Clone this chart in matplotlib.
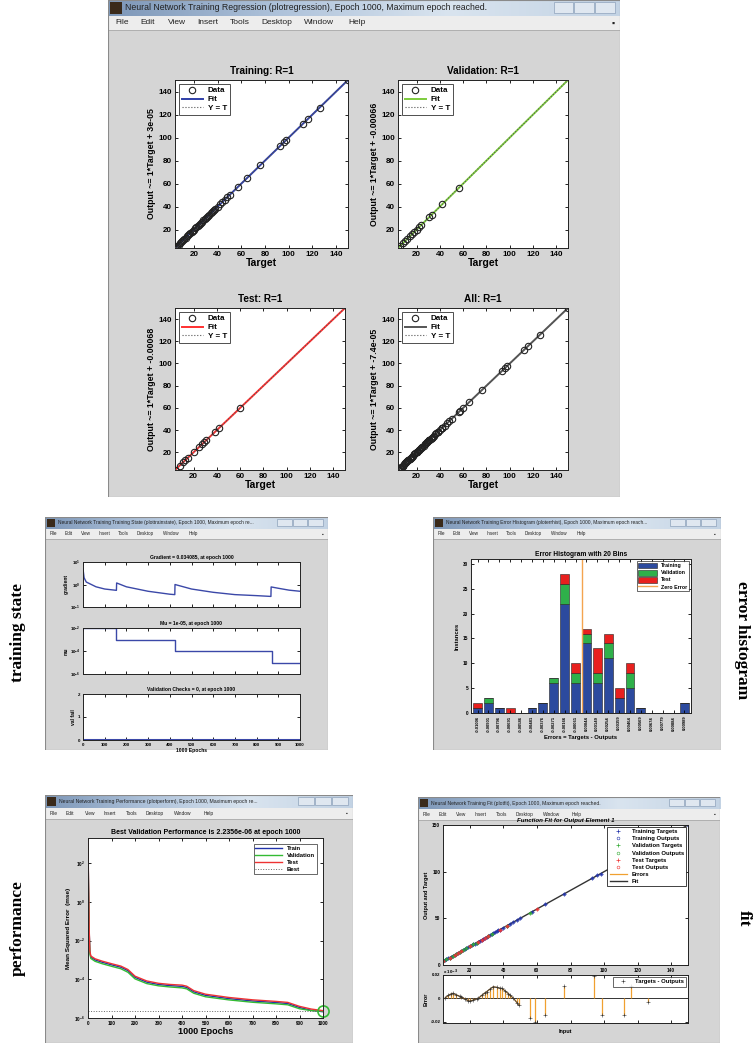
import numpy as np
import matplotlib
matplotlib.use("Agg")
import matplotlib.pyplot as plt
from matplotlib.patches import Rectangle, Patch
from matplotlib.lines import Line2D
from matplotlib.colors import LinearSegmentedColormap

plt.rcParams['font.family'] = ['Liberation Sans', 'DejaVu Sans']
plt.rcParams['font.weight'] = 'bold'
plt.rcParams['axes.labelweight'] = 'bold'
plt.rcParams['axes.titleweight'] = 'bold'
plt.rcParams['mathtext.default'] = 'bf'

# ---------------- data: regression ----------------
train_targets = [4, 5, 6, 7, 8, 9, 10, 11, 12, 13, 14, 15, 16, 17, 18, 19, 20, 21, 22, 23, 24,
                 25, 26, 27, 28, 29, 30, 31, 32, 33, 34, 35, 36, 37, 38, 40, 42, 44, 46, 48, 50,
                 57, 65, 76, 93, 96, 98, 112, 116, 126, 150]
val_targets = [4, 6, 8, 10, 12, 14, 16, 18, 20, 22, 24, 31, 33, 42, 56]
test_targets = [4, 8, 11, 13, 15, 20, 25, 27, 29, 31, 38, 42, 60]
reg_titles = ['Training: R=1', 'Validation: R=1', 'Test: R=1', 'All: R=1']
reg_ylabels = ['Output ~= 1*Target + 3e-05', 'Output ~= 1*Target + -0.00066',
               'Output ~= 1*Target + -0.00068', 'Output ~= 1*Target + -7.4e-05']
reg_ticks = [20, 40, 60, 80, 100, 120, 140]

# ---------------- data: training state ----------------
grad_epochs = [0, 5, 15, 60, 100, 154, 155, 200, 300, 400, 423, 424, 500, 600, 700, 800, 866,
               867, 900, 950, 1000]
grad_values = [5.0, 2.0, 1.29, 0.79, 0.63, 0.55, 1.17, 0.79, 0.50, 0.37, 0.355, 1.0, 0.63,
               0.45, 0.355, 0.32, 0.295, 0.78, 0.68, 0.56, 0.50]
mu_epochs = [0, 151, 423, 869, 1000]
mu_values = [1e-2, 1e-3, 1e-4, 1e-5, 1e-5]
valfail_epochs = [0, 1000]
valfail_values = [0, 0]
epoch_ticks = [0, 100, 200, 300, 400, 500, 600, 700, 800, 900, 1000]

# ---------------- data: error histogram ----------------
hist_train = [1, 2, 1, 0, 0, 1, 2, 6, 22, 6, 14, 6, 11, 3, 5, 1, 0, 0, 0, 2]
hist_val = [0, 1, 0, 0, 0, 0, 0, 1, 4, 2, 2, 2, 3, 0, 3, 0, 0, 0, 0, 0]
hist_test = [1, 0, 0, 1, 0, 0, 0, 0, 2, 2, 1, 5, 2, 2, 2, 0, 0, 0, 0, 0]
hist_bin_labels = ['-0.01006', '-0.00901', '-0.00796', '-0.00691', '-0.00586', '-0.00481',
                   '-0.00376', '-0.00271', '-0.00166', '-0.00061', '0.00044', '0.00149',
                   '0.00254', '0.00359', '0.00464', '0.00569', '0.00674', '0.00779',
                   '0.00884', '0.00989']

# ---------------- data: performance ----------------
perf_epochs = [0, 2, 5, 8, 12, 30, 60, 100, 140, 170, 200, 250, 300, 350, 400, 420, 450, 500,
               600, 700, 800, 850, 900, 950, 1000]
perf_train = [1e3, 10, 0.0316, 2.5e-3, 1.41e-3, 1e-3, 7.6e-4, 5.6e-4, 4.2e-4, 2.8e-4, 1.26e-4,
              7.1e-5, 5.4e-5, 4.7e-5, 4.3e-5, 3.8e-5, 2.24e-5, 1.48e-5, 1e-5, 7.6e-6, 6.3e-6,
              5.6e-6, 3.5e-6, 2.5e-6, 2.1e-6]
perf_val = [8e2, 8, 0.025, 2.1e-3, 1.2e-3, 8.5e-4, 6.4e-4, 4.7e-4, 3.5e-4, 2.3e-4, 1.05e-4,
            6e-5, 4.6e-5, 4.0e-5, 3.6e-5, 3.2e-5, 1.9e-5, 1.25e-5, 8.6e-6, 6.5e-6, 5.4e-6,
            4.8e-6, 3.0e-6, 2.4e-6, 2.2356e-6]
perf_test = [1.5e3, 15, 0.04, 2.9e-3, 1.6e-3, 1.15e-3, 8.7e-4, 6.4e-4, 4.8e-4, 3.2e-4, 1.45e-4,
             8.2e-5, 6.2e-5, 5.4e-5, 5e-5, 4.4e-5, 2.6e-5, 1.7e-5, 1.15e-5, 8.7e-6, 7.2e-6,
             6.4e-6, 4e-6, 2.9e-6, 2.4e-6]
best_epoch = 1000
best_perf = 2.2356e-6

# ---------------- data: function fit ----------------
err_inputs = [5, 7, 9, 10, 12, 14, 15, 17, 19, 20, 22, 24, 25, 27, 29, 30, 32, 34, 36, 38, 39,
              41, 43, 44, 46, 48, 49, 56, 59, 65, 76, 94, 99, 112, 116, 126]
err_values = [0, 2.5e-3, 4.0e-3, 4.3e-3, 3.0e-3, 1.8e-3, 1.4e-3, -0.5e-3, -2.0e-3, -2.3e-3,
              -1.5e-3, -0.3e-3, 0, 2.5e-3, 4.8e-3, 5.7e-3, 8.0e-3, 10.0e-3, 9.5e-3, 8.6e-3,
              8.6e-3, 6.5e-3, 4.0e-3, 2.9e-3, 0, -3.5e-3, -5.7e-3, -17e-3, -20e-3, -14e-3,
              11e-3, 19e-3, -14e-3, -14e-3, 11e-3, -3e-3]

# ---------------- layout helpers ----------------
W, H = 753, 1043
fig = plt.figure(figsize=(W / 100, H / 100), dpi=100)
fig.patch.set_facecolor('white')


def R(x, y, w, h):
    return [x / W, 1 - (y + h) / H, w / W, h / H]


title_cmap = LinearSegmentedColormap.from_list('tb', ['#7d97b8', '#aec2da', '#d9e4ef', '#c3d3e4'])
menu_items = ['File', 'Edit', 'View', 'Insert', 'Tools', 'Desktop', 'Window', 'Help']
menu_offsets = [7, 32, 60, 89, 122, 153, 196, 240]


def window(x, y, w, h, title, tb, mb, fs, scale):
    ax = fig.add_axes(R(x, y, w, h))
    ax.imshow(np.linspace(0, 1, 256)[None, :], extent=(0, w, tb, 0), cmap=title_cmap,
              aspect='auto', interpolation='bilinear')
    ax.add_patch(Rectangle((0, tb), w, h - tb, facecolor='#d5d5d5', edgecolor='none'))
    ax.add_patch(Rectangle((0, tb), w, mb, facecolor='#ededed', edgecolor='none'))
    ax.add_patch(Rectangle((0, tb + mb), w, 0.8, facecolor='#b0b0b0', edgecolor='none'))
    ax.add_patch(Rectangle((0, 0), w, h, facecolor='none', edgecolor='#8a8a8a', lw=0.8))
    ax.add_patch(Rectangle((2, 2), tb - 4, tb - 4, facecolor='#3a2a1a', edgecolor='none'))
    bw = tb * 1.3
    for i in range(3):
        ax.add_patch(Rectangle((w - 4 - (3 - i) * bw, 2), bw - 1, tb - 5,
                               facecolor='#dfe7f0', edgecolor='#8ea2bb', lw=0.5))
    ax.text(tb + 1, tb / 2, title, fontsize=fs, va='center', ha='left', color='#222222',
            fontweight='normal')
    for item, off in zip(menu_items, menu_offsets):
        ax.text(off * scale, tb + mb / 2, item, fontsize=fs * 0.95, va='center', ha='left',
                color='#222222', fontweight='normal')
    ax.text(w - 5, tb + mb / 2, '\u25aa', fontsize=fs, va='center', ha='right', color='#222222')
    ax.set_xlim(0, w)
    ax.set_ylim(h, 0)
    ax.axis('off')
    return ax


def matlab_axes(rect, fs):
    ax = fig.add_axes(R(*rect))
    ax.set_facecolor('white')
    ax.tick_params(direction='in', top=True, right=True, labelsize=fs, length=2.5, width=0.6,
                   pad=2)
    ax.tick_params(which='minor', direction='in', top=True, right=True, length=1.2, width=0.4)
    for s in ax.spines.values():
        s.set_linewidth(0.7)
        s.set_color('#222222')
    return ax


# ---------------- top window: regression ----------------
window(108, 0, 512, 497,
       'Neural Network Training Regression (plotregression), Epoch 1000, Maximum epoch reached.',
       16, 14, 6.3, 1.0)

all_targets = sorted(train_targets + val_targets + test_targets)
lo, hi = min(all_targets), max(all_targets)
reg_sets = [train_targets, val_targets, test_targets, all_targets]
reg_colors = ['#2f3fa8', '#7dcc3c', '#ff3030', '#555555']
reg_rects = [(175, 80, 173, 168), (398, 80, 170, 168), (175, 308, 170, 162), (398, 308, 170, 162)]
for t, col, rect, ttl, yl in zip(reg_sets, reg_colors, reg_rects, reg_titles, reg_ylabels):
    ax = matlab_axes(rect, 5.8)
    ax.plot([lo, hi], [lo, hi], color=col, lw=1.4, label='Fit', zorder=2)
    ax.plot([lo, hi], [lo, hi], ':', color='#555555', lw=0.8, label='Y = T', zorder=3)
    ax.plot(t, t, 'o', mfc='none', mec='#222222', ms=4.6, mew=0.8, label='Data', zorder=4)
    ax.set_xlim(lo, hi)
    ax.set_ylim(lo, hi)
    ax.set_xticks(reg_ticks)
    ax.set_yticks(reg_ticks)
    ax.set_title(ttl, fontsize=7.2, pad=4)
    ax.set_xlabel('Target', fontsize=7.5, labelpad=0)
    ax.set_ylabel(yl, fontsize=6.3, labelpad=2)
    h_, l_ = ax.get_legend_handles_labels()
    order = [2, 0, 1]
    leg = ax.legend([h_[i] for i in order], [l_[i] for i in order], loc='upper left',
                    fontsize=5.8, frameon=True, fancybox=False, edgecolor='#222222',
                    borderpad=0.35, labelspacing=0.15, handlelength=2.6, handletextpad=0.6,
                    borderaxespad=0.5)
    leg.get_frame().set_linewidth(0.7)

# ---------------- training state window ----------------
window(45, 517, 283, 233,
       'Neural Network Training Training State (plottrainstate), Epoch 1000, Maximum epoch re...',
       12, 10, 3.5, 0.6)
ts_color = '#3b48a8'
ax = matlab_axes((83, 562, 217, 45), 3.2)
ax.semilogy(grad_epochs, grad_values, color=ts_color, lw=1.0)
ax.set_xlim(0, 1000)
ax.set_ylim(1e-1, 1e1)
ax.set_xticks(epoch_ticks)
ax.set_xticklabels([])
ax.set_yticks([1e-1, 1e0, 1e1])
ax.minorticks_off()
ax.set_title('Gradient = 0.034085, at epoch 1000', fontsize=3.6, pad=2.5)
ax.set_ylabel('gradient', fontsize=3.6, labelpad=1)

ax = matlab_axes((83, 628, 217, 46), 3.2)
ax.semilogy(mu_epochs, mu_values, color=ts_color, lw=1.0, drawstyle='steps-post')
ax.set_xlim(0, 1000)
ax.set_ylim(1e-6, 1e-2)
ax.set_xticks(epoch_ticks)
ax.set_xticklabels([])
ax.set_yticks([1e-6, 1e-4, 1e-2])
ax.minorticks_off()
ax.set_title('Mu = 1e-05, at epoch 1000', fontsize=3.6, pad=2.5)
ax.set_ylabel('mu', fontsize=3.6, labelpad=1)

ax = matlab_axes((83, 694, 217, 46), 3.2)
ax.plot(valfail_epochs, valfail_values, color=ts_color, lw=2.2)
ax.set_xlim(0, 1000)
ax.set_ylim(0, 2)
ax.set_xticks(epoch_ticks)
ax.set_yticks([0, 1, 2])
ax.set_title('Validation Checks = 0, at epoch 1000', fontsize=3.6, pad=2.5)
ax.set_ylabel('val fail', fontsize=3.6, labelpad=1)
ax.set_xlabel('1000 Epochs', fontsize=3.6, labelpad=1)

# ---------------- error histogram window ----------------
window(433, 517, 288, 233,
       'Neural Network Training Error Histogram (ploterrhist), Epoch 1000, Maximum epoch reach...',
       12, 10, 3.5, 0.6)
ax = matlab_axes((471, 559, 220, 154), 3.4)
idx = np.arange(len(hist_train))
tr = np.array(hist_train)
va = np.array(hist_val)
te = np.array(hist_test)
b1 = ax.bar(idx, tr, width=0.82, color='#2c4a9e', edgecolor='#222222', lw=0.4, label='Training')
b2 = ax.bar(idx, va, width=0.82, bottom=tr, color='#2fb04a', edgecolor='#222222', lw=0.4,
            label='Validation')
b3 = ax.bar(idx, te, width=0.82, bottom=tr + va, color='#e8201e', edgecolor='#222222', lw=0.4,
            label='Test')
bin_vals = np.array([float(s) for s in hist_bin_labels])
zero_pos = np.interp(0.0, bin_vals, idx)
zl = ax.axvline(zero_pos, color='#f4a450', lw=1.0, label='Zero Error')
ax.set_xlim(-0.6, len(idx) - 0.4)
ax.set_ylim(0, 31)
ax.set_yticks([0, 5, 10, 15, 20, 25, 30])
ax.set_xticks(idx)
ax.set_xticklabels(hist_bin_labels, rotation=90, fontsize=3.0)
ax.set_title('Error Histogram with 20 Bins', fontsize=4.8, pad=2.5)
ax.set_ylabel('Instances', fontsize=4.2, labelpad=2)
ax.set_xlabel('Errors = Targets - Outputs', fontsize=4.2, labelpad=2)
leg = ax.legend([b1, b2, b3, zl], ['Training', 'Validation', 'Test', 'Zero Error'],
                loc='upper right', fontsize=3.8, fancybox=False, edgecolor='#222222',
                borderpad=0.3, labelspacing=0.25, handlelength=3.5, handleheight=1.3,
                borderaxespad=0.4)
leg.get_frame().set_linewidth(0.6)

# ---------------- performance window ----------------
window(45, 795, 308, 248,
       'Neural Network Training Performance (plotperform), Epoch 1000, Maximum epoch re...',
       13, 11, 3.7, 0.66)
ax = matlab_axes((88, 838, 235, 180), 3.4)
ax.semilogy(perf_epochs, perf_train, color='#2233aa', lw=1.0, label='Train')
ax.semilogy(perf_epochs, perf_val, color='#33bb33', lw=1.0, label='Validation')
ax.semilogy(perf_epochs, perf_test, color='#ee3333', lw=1.0, label='Test')
ax.axhline(best_perf, color='#666666', lw=0.7, ls=':', label='Best')
ax.axvline(best_epoch, color='#666666', lw=0.7, ls=':')
ax.plot([best_epoch], [best_perf], 'o', mfc='none', mec='#33bb33', ms=8, mew=1.2,
        clip_on=False)
ax.set_xlim(0, 1000)
ax.set_ylim(1e-6, 2e3)
ax.set_xticks(epoch_ticks)
ax.set_yticks([1e-6, 1e-4, 1e-2, 1e0, 1e2])
ax.minorticks_off()
ax.set_title('Best Validation Performance is 2.2356e-06 at epoch 1000', fontsize=5.0, pad=3)
ax.set_ylabel('Mean Squared Error  (mse)', fontsize=4.6, labelpad=2)
ax.set_xlabel('1000 Epochs', fontsize=6.5, labelpad=1)
leg = ax.legend(loc='upper right', fontsize=4.3, fancybox=False, edgecolor='#222222',
                borderpad=0.3, labelspacing=0.3, handlelength=4.5, borderaxespad=1.0)
leg.get_frame().set_linewidth(0.6)

# ---------------- fit window ----------------
window(418, 797, 302, 246,
       'Neural Network Training Fit (plotfit), Epoch 1000, Maximum epoch reached.',
       12, 11, 3.6, 0.64)
ax = matlab_axes((443, 825, 245, 140), 3.4)
fit_x = all_targets
ax.plot(fit_x, fit_x, color='#333333', lw=1.0, label='Fit', zorder=2)
ax.plot(train_targets, train_targets, '+', color='#2233aa', ms=2.5, mew=0.5,
        label='Training Targets')
ax.plot(train_targets, train_targets, 'o', mfc='none', mec='#2233aa', ms=2, mew=0.4,
        label='Training Outputs')
ax.plot(val_targets, val_targets, '+', color='#33aa33', ms=2.5, mew=0.5,
        label='Validation Targets')
ax.plot(val_targets, val_targets, 'o', mfc='none', mec='#33aa33', ms=2, mew=0.4,
        label='Validation Outputs')
ax.plot(test_targets, test_targets, '+', color='#ee3333', ms=2.5, mew=0.5,
        label='Test Targets')
ax.plot(test_targets, test_targets, 'o', mfc='none', mec='#ee3333', ms=2, mew=0.4,
        label='Test Outputs')
err_handle = Line2D([], [], color='#f0a030', lw=0.9)
h_, l_ = ax.get_legend_handles_labels()
handles = h_[1:] + [err_handle, h_[0]]
labels = l_[1:] + ['Errors', 'Fit']
leg = ax.legend(handles, labels, loc='upper right', fontsize=4.2, fancybox=False,
                edgecolor='#222222', borderpad=0.4, labelspacing=0.35, handlelength=3.0,
                borderaxespad=0.3, framealpha=1)
leg.get_frame().set_linewidth(0.6)
ax.set_xlim(lo, hi)
ax.set_ylim(0, 150)
ax.set_xticks(reg_ticks)
ax.set_yticks([0, 50, 100, 150])
ax.set_title('Function Fit for Output Element 1', fontsize=4.4, pad=2.5, style='italic')
ax.set_ylabel('Output and Target', fontsize=4.0, labelpad=2)
ax.text(0.0, -0.055, 'x 10$^{-3}$', transform=ax.transAxes, fontsize=3.2, ha='left',
        va='center')

ax = matlab_axes((443, 975, 245, 48), 3.2)
ax.axhline(0, color='#333333', lw=0.7)
ax.vlines(err_inputs, 0, err_values, color='#f0a030', lw=0.9)
ax.plot(err_inputs[:27], err_values[:27], '-', color='#6b4a20', lw=0.9)
ax.plot(err_inputs, err_values, '+', color='#333333', ms=2.2, mew=0.4,
        label='Targets - Outputs')
ax.set_xlim(lo, hi)
ax.set_ylim(-0.021, 0.02)
ax.set_xticks(reg_ticks)
ax.set_xticklabels([])
ax.set_yticks([-0.02, 0, 0.02])
ax.set_yticklabels(['-0.02', '0', '0.02'])
ax.set_xlabel('Input', fontsize=4.0, labelpad=2)
ax.set_ylabel('Error', fontsize=4.0, labelpad=1)
leg = ax.legend(loc='upper right', fontsize=4.2, fancybox=False, edgecolor='#222222',
                borderpad=0.35, handlelength=2.5, borderaxespad=0.4)
leg.get_frame().set_linewidth(0.6)

# ---------------- side captions ----------------
serif = ['Liberation Serif', 'DejaVu Serif']
fig.text(18 / W, 1 - 633 / H, 'training state', rotation=90, fontsize=12.5, family=serif,
         fontweight='bold', ha='center', va='center')
fig.text(742 / W, 1 - 640 / H, 'error histogram', rotation=270, fontsize=12.5, family=serif,
         fontweight='bold', ha='center', va='center')
fig.text(18 / W, 1 - 928 / H, 'performance', rotation=90, fontsize=12.5, family=serif,
         fontweight='bold', ha='center', va='center')
fig.text(744 / W, 1 - 918 / H, 'fit', rotation=270, fontsize=12.5, family=serif,
         fontweight='bold', ha='center', va='center')

fig.savefig('out.png', dpi=100, facecolor='white')
